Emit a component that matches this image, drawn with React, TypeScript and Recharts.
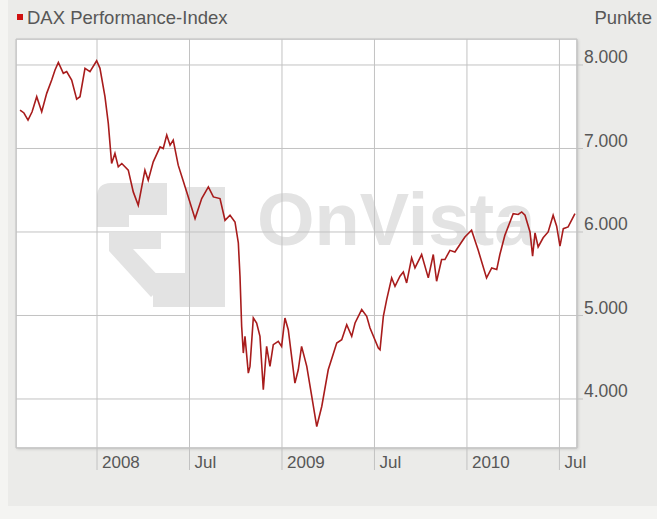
import { LineChart, Line, XAxis, YAxis, CartesianGrid } from "recharts";

// DAX weekly closes (x in decimal years)
const dates = [
  2007.584, 2007.605, 2007.627, 2007.649, 2007.674, 2007.701, 2007.728, 2007.755,
  2007.773, 2007.791, 2007.818, 2007.836, 2007.863, 2007.89, 2007.908, 2007.935,
  2007.962, 2007.998, 2008.016, 2008.043, 2008.061, 2008.079, 2008.097, 2008.115,
  2008.134, 2008.169, 2008.196, 2008.223, 2008.259, 2008.277, 2008.304, 2008.341,
  2008.358, 2008.377, 2008.395, 2008.412, 2008.439, 2008.485, 2008.53, 2008.566,
  2008.602, 2008.629, 2008.665, 2008.692, 2008.719, 2008.746, 2008.764, 2008.773,
  2008.782, 2008.791, 2008.8, 2008.818, 2008.827, 2008.845, 2008.863, 2008.881,
  2008.899, 2008.917, 2008.935, 2008.953, 2008.98, 2008.998, 2009.016, 2009.034,
  2009.07, 2009.088, 2009.106, 2009.134, 2009.161, 2009.188, 2009.215, 2009.25,
  2009.296, 2009.323, 2009.35, 2009.377, 2009.395, 2009.431, 2009.458, 2009.476,
  2009.521, 2009.53, 2009.548, 2009.566, 2009.593, 2009.611, 2009.638, 2009.656,
  2009.674, 2009.701, 2009.719, 2009.755, 2009.791, 2009.818, 2009.836, 2009.863,
  2009.881, 2009.908, 2009.935, 2009.953, 2009.989, 2010.025, 2010.061, 2010.106,
  2010.134, 2010.161, 2010.178, 2010.205, 2010.25, 2010.277, 2010.296, 2010.314,
  2010.341, 2010.355, 2010.368, 2010.385, 2010.412, 2010.439, 2010.466, 2010.485,
  2010.503, 2010.521, 2010.547, 2010.584,
];

const points = [
  7460, 7425, 7340, 7440, 7620, 7440, 7660, 7820,
  7940, 8030, 7900, 7920, 7820, 7590, 7620, 7960,
  7920, 8050, 7960, 7620, 7300, 6820, 6940, 6780,
  6820, 6740, 6480, 6320, 6740, 6620, 6840, 7020,
  7000, 7160, 7040, 7100, 6800, 6480, 6160, 6400,
  6540, 6420, 6400, 6140, 6200, 6120, 5870, 5470,
  4870, 4550, 4750, 4310, 4390, 4970, 4910, 4750,
  4110, 4630, 4390, 4650, 4690, 4630, 4970, 4830,
  4190, 4350, 4630, 4390, 4030, 3670, 3910, 4350,
  4670, 4710, 4890, 4750, 4910, 5070, 4990, 4850,
  4610, 4590, 4990, 5190, 5450, 5350, 5470, 5520,
  5390, 5690, 5570, 5730, 5450, 5730, 5410, 5670,
  5670, 5780, 5760, 5820, 5940, 6020, 5780, 5450,
  5570, 5550, 5730, 5960, 6220, 6210, 6240, 6200,
  6000, 5710, 5990, 5820, 5930, 6000, 6200, 6070,
  5830, 6040, 6060, 6220,
];

const xTicks = [2008, 2008.5, 2009, 2009.5, 2010, 2010.5];
const xTickLabels = ["2008", "Jul", "2009", "Jul", "2010", "Jul"];
const yTicks = [4000, 5000, 6000, 7000, 8000];

const data = dates.map((t, i) => ({ t, v: points[i] }));

const W = 657;
const H = 519;
const PLOT = { left: 16, top: 39, right: 577, bottom: 448 };
const Y_AXIS_W = 60;
const X_AXIS_H = 40;
const FONT = '"Liberation Sans", Arial, sans-serif';
const TEXT = "#575757";
const GRID = "#c2c2c2";

function XTick({ x, y, payload }: any) {
  const i = xTicks.indexOf(payload.value);
  return (
    <text x={x + 5} y={y - 8} dy="0.35em" fontSize={17} fill={TEXT} fontFamily={FONT}>
      {xTickLabels[i]}
    </text>
  );
}

function YTick({ x, y, payload }: any) {
  const label = payload.value.toLocaleString("de-DE");
  return (
    <text x={x + 1} y={y - 8} dy="0.35em" fontSize={17.5} fill={TEXT} fontFamily={FONT}>
      {label}
    </text>
  );
}

// faint OnVista watermark that sits behind the line
function Watermark() {
  return (
    <svg width={PLOT.right - PLOT.left} height={PLOT.bottom - PLOT.top} style={{ position: "absolute", left: 0, top: 0 }}>
      <g transform={`translate(${-PLOT.left},${-PLOT.top})`} fill="#e3e3e3">
        <path d="M96 196 Q96 182 110 182 H166 V214 H128 V226 H96 Z" />
        <path d="M184 186 H224 V306 H152 V272 H184 Z" />
        <path d="M108 250 L150 296 L164 282 L132 248 L160 248 L160 232 L108 232 Z" />
        <text x={256} y={244} fontSize={74} fontWeight="bold" fontFamily={FONT}>
          OnVista
        </text>
      </g>
    </svg>
  );
}

export default function App() {
  return (
    <div style={{ position: "absolute", left: 0, top: 0, width: W, height: H, background: "#f4f4f2", fontFamily: FONT }}>
      <div style={{ position: "absolute", left: 8, top: 0, width: W - 8, height: 506, background: "#ebebe9" }} />
      <div
        style={{
          position: "absolute",
          left: PLOT.left,
          top: PLOT.top,
          width: PLOT.right - PLOT.left,
          height: PLOT.bottom - PLOT.top,
          background: "#fff",
          boxShadow: "1px 1px 3px rgba(0,0,0,0.18)",
          border: "1px solid #d6d6d6",
          boxSizing: "border-box",
          overflow: "hidden",
        }}
      >
        <Watermark />
      </div>
      <div style={{ position: "absolute", left: 17, top: 14, width: 6, height: 6, background: "#d01010" }} />
      <div style={{ position: "absolute", left: 27, top: 7, fontSize: 18.5, color: TEXT, lineHeight: "22px" }}>
        DAX Performance-Index
      </div>
      <div style={{ position: "absolute", right: 5, top: 7, fontSize: 18.5, color: TEXT, lineHeight: "22px" }}>
        Punkte
      </div>
      <div style={{ position: "absolute", left: 0, top: 0 }}>
        <LineChart
          width={W}
          height={H}
          data={data}
          margin={{
            top: PLOT.top,
            left: PLOT.left,
            right: W - PLOT.right - Y_AXIS_W,
            bottom: H - PLOT.bottom - X_AXIS_H,
          }}
        >
          <CartesianGrid stroke={GRID} strokeWidth={1} />
          <XAxis
            dataKey="t"
            type="number"
            domain={[2007.562, 2010.595]}
            ticks={xTicks}
            height={X_AXIS_H}
            axisLine={false}
            tickLine={{ stroke: GRID }}
            tickSize={22}
            tickMargin={0}
            tick={<XTick />}
            allowDataOverflow
          />
          <YAxis
            orientation="right"
            type="number"
            domain={[3413, 8311]}
            ticks={yTicks}
            width={Y_AXIS_W}
            axisLine={false}
            tickLine={{ stroke: GRID }}
            tickSize={6}
            tickMargin={0}
            tick={<YTick />}
            allowDataOverflow
          />
          <Line
            type="linear"
            dataKey="v"
            stroke="#a81c1c"
            strokeWidth={1.6}
            dot={false}
            isAnimationActive={false}
          />
        </LineChart>
      </div>
    </div>
  );
}
